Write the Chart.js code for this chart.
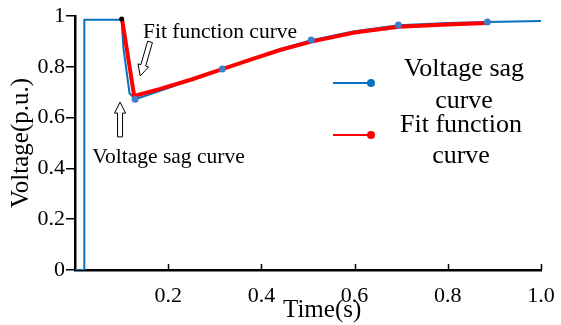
<!DOCTYPE html>
<html>
<head>
<meta charset="utf-8">
<script src="https://cdn.jsdelivr.net/npm/chart.js@4"></script>
<style>
  html,body{margin:0;padding:0;background:#fff;}
  #wrap{width:561px;height:325px;position:relative;}
</style>
</head>
<body>
<div id="wrap"><canvas id="c" width="561" height="325"></canvas></div>
<script>
// ---- data ----
const sagTime    = [0, 0.02, 0.02, 0.1, 0.104, 0.106, 0.117, 0.129, 0.2, 0.316, 0.44, 0.507, 0.6, 0.694, 0.8, 0.885, 1.0];
const sagVoltage = [0, 0, 0.985, 0.985, 0.873, 0.846, 0.696, 0.672, 0.716, 0.791, 0.869, 0.905, 0.94, 0.964, 0.972, 0.976, 0.98];
const sagMarkTime    = [0.129, 0.316, 0.507, 0.694, 0.885];
const sagMarkVoltage = [0.672, 0.791, 0.906, 0.965, 0.976];
const fitTime    = [0.101, 0.127, 0.183, 0.25, 0.316, 0.38, 0.44, 0.507, 0.6, 0.694, 0.8, 0.885];
const fitVoltage = [0.988, 0.685, 0.713, 0.75, 0.791, 0.83, 0.866, 0.899, 0.935, 0.958, 0.967, 0.972];
const startTime = [0.1];
const startVoltage = [0.988];
const xTickValues = [0.2, 0.4, 0.6, 0.8, 1.0];
const yTickValues = [0, 0.2, 0.4, 0.6, 0.8, 1];
const seriesNames = ['Voltage sag curve', 'Fit function curve'];
const xTitle = 'Time(s)';
const yTitle = 'Voltage(p.u.)';
// annotation anchors in data units
const fitNote = {text: 'Fit function curve', t: 0.146, v: 0.915, arrowFrom: [0.161, 0.898], arrowTo: [0.140, 0.764]};
const sagNote = {text: 'Voltage sag curve', t: 0.037, v: 0.421, arrowFrom: [0.0967, 0.524], arrowTo: [0.0967, 0.661]};

const SERIF = "'Liberation Serif', 'Times New Roman', serif";
const BLUE = '#0a72bd';
const MARK = '#3d7fc9';
const RED = '#ff0000';

const pts = (xs, ys) => xs.map((x, i) => ({x: x, y: ys[i]}));

function hollowArrow(ctx, x1, y1, x2, y2) {
  const dx = x2 - x1, dy = y2 - y1;
  const L = Math.hypot(dx, dy);
  const ux = dx / L, uy = dy / L, nx = -uy, ny = ux;
  const hw = 2.5, headW = 5.5, headL = 11;
  const bx = x2 - ux * headL, by = y2 - uy * headL;
  ctx.beginPath();
  ctx.moveTo(x1 + nx * hw, y1 + ny * hw);
  ctx.lineTo(bx + nx * hw, by + ny * hw);
  ctx.lineTo(bx + nx * headW, by + ny * headW);
  ctx.lineTo(x2, y2);
  ctx.lineTo(bx - nx * headW, by - ny * headW);
  ctx.lineTo(bx - nx * hw, by - ny * hw);
  ctx.lineTo(x1 - nx * hw, y1 - ny * hw);
  ctx.closePath();
  ctx.fillStyle = '#fff';
  ctx.fill();
  ctx.strokeStyle = '#000';
  ctx.lineWidth = 1;
  ctx.stroke();
}

const decorPlugin = {
  id: 'decor',
  afterDraw(chart) {
    const ctx = chart.ctx;
    const xs = chart.scales.x, ys = chart.scales.y;
    const area = chart.chartArea;
    ctx.save();
    // inward ticks on x axis
    ctx.strokeStyle = '#000';
    ctx.lineWidth = 1.5;
    xTickValues.forEach(v => {
      const px = Math.round(xs.getPixelForValue(v)) + 0.5;
      ctx.beginPath();
      ctx.moveTo(px, area.bottom);
      ctx.lineTo(px, area.bottom - 6);
      ctx.stroke();
    });
    // x axis title
    ctx.fillStyle = '#000';
    ctx.font = '25px ' + SERIF;
    ctx.textAlign = 'left';
    ctx.textBaseline = 'alphabetic';
    ctx.fillText(xTitle, 283, 317);

    // annotations
    ctx.font = '21.5px ' + SERIF;
    ctx.fillText(fitNote.text, xs.getPixelForValue(fitNote.t), ys.getPixelForValue(fitNote.v));
    ctx.fillText(sagNote.text, xs.getPixelForValue(sagNote.t), ys.getPixelForValue(sagNote.v));
    hollowArrow(ctx, xs.getPixelForValue(fitNote.arrowFrom[0]), ys.getPixelForValue(fitNote.arrowFrom[1]),
                     xs.getPixelForValue(fitNote.arrowTo[0]), ys.getPixelForValue(fitNote.arrowTo[1]));
    hollowArrow(ctx, xs.getPixelForValue(sagNote.arrowFrom[0]), ys.getPixelForValue(sagNote.arrowFrom[1]),
                     xs.getPixelForValue(sagNote.arrowTo[0]), ys.getPixelForValue(sagNote.arrowTo[1]));

    // legend
    const items = [
      {color: BLUE, y: 83, lines: ['Voltage sag', 'curve'], cx: 464, base: [76, 108]},
      {color: RED,  y: 135, lines: ['Fit function', 'curve'], cx: 461, base: [132, 163]}
    ];
    items.forEach(it => {
      ctx.strokeStyle = it.color;
      ctx.lineWidth = 2;
      ctx.beginPath();
      ctx.moveTo(333, it.y);
      ctx.lineTo(371, it.y);
      ctx.stroke();
      ctx.fillStyle = it.color;
      ctx.beginPath();
      ctx.arc(371, it.y, 4, 0, Math.PI * 2);
      ctx.fill();
      ctx.fillStyle = '#000';
      ctx.font = '26px ' + SERIF;
      ctx.textAlign = 'center';
      it.lines.forEach((ln, k) => ctx.fillText(ln, it.cx, it.base[k]));
    });
    ctx.restore();
  }
};

new Chart(document.getElementById('c'), {
  type: 'scatter',
  data: {
    datasets: [
      {label: 'start', data: pts(startTime, startVoltage), showLine: false,
       pointRadius: 2.5, pointBackgroundColor: '#000', pointBorderWidth: 0, order: 0},
      {label: seriesNames[0] + ' markers', data: pts(sagMarkTime, sagMarkVoltage), showLine: false,
       pointRadius: 3.5, pointBackgroundColor: MARK, pointBorderWidth: 0, order: 1},
      {label: seriesNames[1], data: pts(fitTime, fitVoltage), showLine: true,
       borderColor: RED, borderWidth: 4, pointRadius: 0, tension: 0, order: 2},
      {label: seriesNames[0], data: pts(sagTime, sagVoltage), showLine: true,
       borderColor: BLUE, borderWidth: 2, pointRadius: 0, tension: 0, order: 3}
    ]
  },
  options: {
    responsive: false,
    animation: false,
    events: [],
    layout: {padding: {left: 0, right: 20, top: 16, bottom: 0}},
    plugins: {legend: {display: false}, tooltip: {enabled: false}, title: {display: false}},
    scales: {
      x: {
        type: 'linear', min: 0, max: 1,
        afterBuildTicks: s => { s.ticks = [0].concat(xTickValues).map(v => ({value: v})); },
        afterFit: s => { s.height = 55; s.paddingLeft = 0; s.paddingRight = 0; },
        grid: {display: false, drawTicks: false},
        border: {display: true, color: '#000', width: 2.5},
        ticks: {
          autoSkip: false, maxRotation: 0, padding: 13, color: '#000',
          font: {family: SERIF, size: 22},
          callback: v => (v === 0 ? '' : Number(v).toFixed(1))
        }
      },
      y: {
        type: 'linear', min: 0, max: 1,
        afterBuildTicks: s => { s.ticks = yTickValues.map(v => ({value: v})); },
        afterFit: s => { s.width = 75; s.paddingTop = 0; s.paddingBottom = 0; },
        grid: {display: true, drawOnChartArea: false, drawTicks: true, tickLength: 9, color: '#000', lineWidth: 1.5},
        border: {display: true, color: '#000', width: 2.5},
        ticks: {
          padding: 1, color: '#000',
          font: {family: SERIF, size: 22},
          callback: v => (v === 0 ? '0' : v === 1 ? '1' : Number(v).toFixed(1))
        },
        title: {display: true, text: yTitle, color: '#000', font: {family: SERIF, size: 25}, padding: {top: 6, bottom: 0}}
      }
    }
  },
  plugins: [decorPlugin]
});
</script>
</body>
</html>
